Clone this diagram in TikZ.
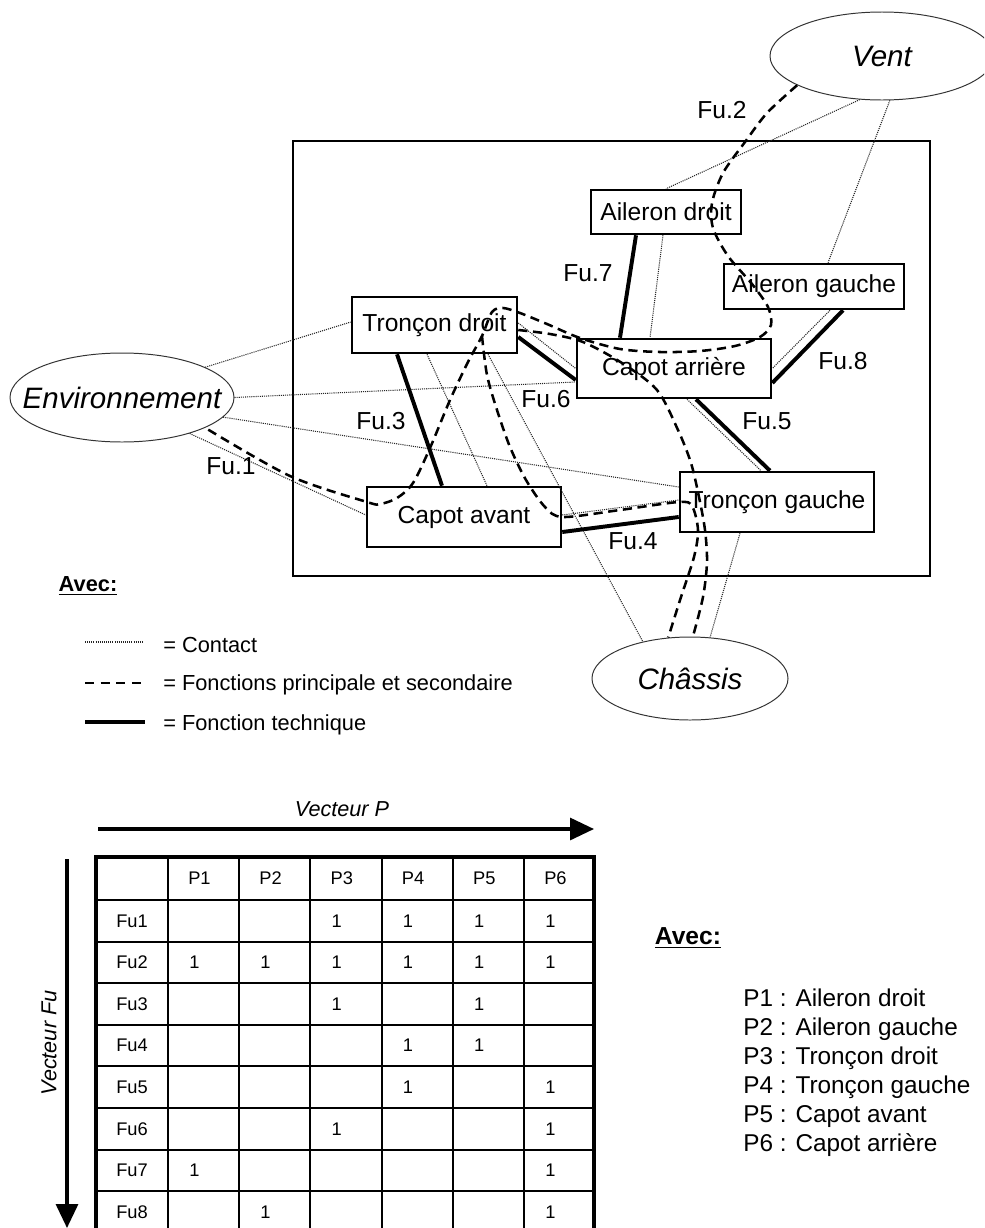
\documentclass[tikz,border=0pt]{standalone}
\usepackage{fontspec}
\setmainfont{Liberation Sans}
\usetikzlibrary{arrows.meta,calc,shapes.geometric}
\tikzset{
  piece/.style={draw=black,line width=1.8pt,inner sep=0pt,
    font=\fontsize{17.5}{20}\selectfont},
  milieu/.style={draw=black!80,ellipse,line width=0.7pt,inner sep=0pt},
  milieutxt/.style={inner sep=0pt,font=\fontsize{21}{24}\selectfont\itshape},
  contact/.style={draw=black!85,line width=0.75pt,dash pattern=on 0.75pt off 0.75pt},
  fonction/.style={line width=1.8pt,dash pattern=on 2.3mm off 1.4mm},
  technique/.style={line width=2.8pt},
  fulabel/.style={inner sep=0pt,font=\fontsize{17.5}{20}\selectfont},
  legende/.style={anchor=west,inner sep=0pt,font=\fontsize{15.5}{18}\selectfont},
  cellule/.style={anchor=west,inner sep=0pt,font=\fontsize{13}{15}\selectfont},
  vecteur/.style={line width=2.3pt,-{Triangle[length=6mm,width=5.5mm]}},
}

\begin{document}
\begin{tikzpicture}[x=0.25mm,y=-0.25mm]
  \useasboundingbox (0,0) rectangle (984,1228);
  \clip (0,0) rectangle (984,1228);

  % cadre du produit
  \draw[line width=1.7pt] (293,141) rectangle (930,576);

  % pieces
  \node[piece,minimum width=37.5mm,minimum height=11mm] (ad) at (666,212) {Aileron droit};
  \node[piece,minimum width=45mm,minimum height=11.25mm] (ag) at (814,286.5) {Aileron gauche};
  \node[piece,minimum width=41.25mm,minimum height=14mm] (td) at (434.5,325) {Tronçon droit};
  \node[piece,minimum width=48.5mm,minimum height=14.75mm] (car) at (674,368.5) {Capot arrière};
  \node[piece,minimum width=48.5mm,minimum height=15mm] (cav) at (464,517) {Capot avant};
  \node[piece,minimum width=48.5mm,minimum height=15mm] (tg) at (777,502) {Tronçon gauche};

  % milieux exterieurs
  \node[milieu,minimum width=56mm,minimum height=22.25mm,
        label={[milieutxt]center:Environnement}] (env) at (122,397.5) {};
  \node[milieu,minimum width=56mm,minimum height=22mm,
        label={[milieutxt]center:Vent}] (vent) at (882,56) {};
  \node[milieu,minimum width=49mm,minimum height=20.75mm,
        label={[milieutxt]center:Châssis}] (chassis) at (690,678.5) {};

  % contacts
  \draw[contact] (vent.243) -- (ad.north);
  \draw[contact] (vent.280) -- ($(ag.north)+(14,0)$);
  \draw[contact] ($(ad.south)+(-3,0)$) -- ($(car.north)+(-24,0)$);
  \draw[contact] ($(ag.south)+(16,0)$) -- (car.east);
  \draw[contact] ($(td.east)+(0,-2)$) -- (car.west);
  \draw[contact] ($(td.south)+(-7.5,0)$) -- ($(cav.north)+(23,0)$);
  \draw[contact] ($(td.south)+(53.5,0)$) -- (chassis.142);
  \draw[contact] ($(car.south)+(13,0)$) -- ($(tg.north)+(-16,0)$);
  \draw[contact] ($(cav.east)+(0,-2)$) -- ($(tg.west)+(0,-2)$);
  \draw[contact] ($(tg.south)+(-37,0)$) -- (chassis.64);
  \draw[contact] (env.20) -- ($(td.west)+(0,-3)$);
  \draw[contact] (env.east) -- ($(car.west)+(0,13.5)$);
  \draw[contact] (env.-11) -- ($(tg.west)+(0,-15)$);
  \draw[contact] (env.-28) -- ($(cav.west)+(0,-2)$);

  % fonctions techniques
  \draw[technique] ($(ad.south)+(-30,0)$) -- ($(car.north)+(-54,0)$);
  \draw[technique] ($(ag.south)+(29,0)$) -- ($(car.east)+(0,14.5)$);
  \draw[technique] ($(td.east)+(0,12)$) -- ($(car.west)+(0,11.5)$);
  \draw[technique] ($(td.south)+(-37.5,0)$) -- ($(cav.north)+(-22,0)$);
  \draw[technique] ($(car.south)+(22,0)$) -- ($(tg.north)+(-7,0)$);
  \draw[technique] ($(cav.east)+(0,15)$) -- ($(tg.west)+(0,15)$);

  % fonctions principale et secondaire
  \coordinate (bif) at (482,336);
  \draw[fonction] plot[smooth] coordinates {(vent.199) (767,113) (745,142)
    (723,173) (712,203) (713,228) (728,256) (752,284) (768,307) (771,325)
    (760,337) (735,346) (700,351) (660,352) (620,349) (580,338) (547,324)
    (520,313) (503,308) (492,312) (bif) (468,362) (450,400) (430,448)
    (413,483) (397,498) (380,504) (367,502) (290,476) (env.-20)};
  \draw[fonction] plot[smooth] coordinates {($(td.east)+(0,5)$) (550,334)
    (583,342) (622,363) (657,390) (678,430) (691,463) (699,497) (705,530)
    (707,562) (703,597) (chassis.86)};
  \draw[fonction] plot[smooth] coordinates {(bif) (487,375) (497,410)
    (510,447) (526,480) (545,507) (563,517) (620,510) (tg.west) (692,506)
    (698,530) (694,557) (681,597) (chassis.118)};

  % etiquettes
  \node[fulabel] (fu1) at (231,466) {Fu.1};
  \node[fulabel] (fu2) at (722,110) {Fu.2};
  \node[fulabel] (fu3) at (381,421) {Fu.3};
  \node[fulabel] (fu4) at (633,541) {Fu.4};
  \node[fulabel] (fu5) at (767,421) {Fu.5};
  \node[fulabel] (fu6) at (546,399) {Fu.6};
  \node[fulabel] (fu7) at (588,273) {Fu.7};
  \node[fulabel] (fu8) at (843,361) {Fu.8};

  % legende des traits
  \node[font=\fontsize{15.5}{18}\selectfont\bfseries] (avec) at (88,586) {\underline{Avec:}};
  \draw[contact] (85,642) -- (143,642);
  \draw[line width=1.6pt,dash pattern=on 2.3mm off 1.6mm] (85,683) -- (145,683);
  \draw[line width=3.5pt] (85,722) -- (145,722);
  \node[legende] (lg1) at (163,645) {= Contact};
  \node[legende] (lg2) at (163,685) {= Fonctions principale et secondaire};
  \node[legende] (lg3) at (163,725) {= Fonction technique};

  % matrice
  \node[font=\fontsize{15.4}{18}\selectfont\itshape] (vp) at (342,809) {Vecteur P};
  \node[rotate=90,font=\fontsize{15.4}{18}\selectfont\itshape] (vfu) at (49,1043) {Vecteur Fu};
  \draw[vecteur] (98,829) -- (594,829);
  \draw[vecteur] (67,859) -- (67,1228);
  \foreach \k in {0,...,5}
    \draw[line width=1.3pt] ({168+71.2*\k},857) -- ({168+71.2*\k},1228);
  \foreach \k in {0,...,7}
    \draw[line width=1.3pt] (96,{900+41.6*\k}) -- (594,{900+41.6*\k});
  \draw[line width=3pt] (96,1228) -- (96,857) -- (594,857) -- (594,1228);
  \foreach \c in {1,...,6}
    \node[cellule] (h\c) at ({188+71.2*(\c-1)},878.5) {P\c};
  \foreach \r/\cs in {1/{3,4,5,6},2/{1,2,3,4,5,6},3/{3,5},4/{4,5},
                      5/{4,6},6/{3,6},7/{1,6},8/{2,6}} {
    \node[cellule] (f\r) at (116,{900+41.6*(\r-0.5)}) {Fu\r};
    \foreach \c in \cs
      \node[cellule] (v\r\c) at ({189+71.2*(\c-1)},{900+41.6*(\r-0.5)}) {1};
  }

  % legende des pieces
  \node[font=\fontsize{17.5}{20}\selectfont\bfseries] (avec2) at (688,938) {\underline{Avec:}};
  \foreach \i/\nom in {1/Aileron droit,2/Aileron gauche,3/Tronçon droit,
                       4/Tronçon gauche,5/Capot avant,6/Capot arrière}
    \node[anchor=base west,inner sep=0pt,font=\fontsize{17.3}{20}\selectfont]
      (p\i) at (743,{1006.5+29*(\i-1)}) {P\i{} : \nom};
\end{tikzpicture}
\end{document}
